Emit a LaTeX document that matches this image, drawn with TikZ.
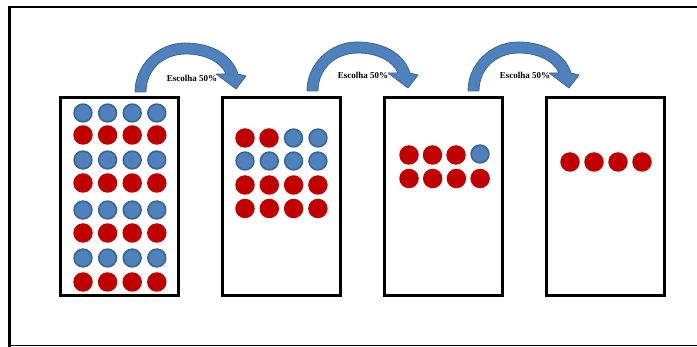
\documentclass[tikz,border=0pt]{standalone}
\usepackage{fontspec}
\setmainfont{Liberation Serif}
\definecolor{dotblue}{HTML}{4F81BD}
\definecolor{dotblueedge}{HTML}{3A6496}
\definecolor{dotred}{HTML}{C00000}
\definecolor{arrblue}{HTML}{4F81BD}
\definecolor{arredge}{HTML}{3B6598}
\newcommand\choicearrow[2]{%
  \begin{scope}[shift={(#1,#2)}]
    \path[arrowshape] (0,0) .. controls (0,-27) and (23,-49) .. (50,-49)
      .. controls (77,-49) and (97,-37) .. (103,-18)
      -- (111,-16) -- (101,-3) -- (81,-18) -- (91,-18)
      .. controls (86,-30) and (70,-38) .. (51,-38)
      .. controls (28,-38) and (11,-22) .. (11,0) -- cycle;
  \end{scope}}
\begin{document}
\begin{tikzpicture}[x=1pt,y=-1pt,
  urn/.style={draw=black,line width=3pt,minimum width=118pt,minimum height=198pt,inner sep=0pt},
  bd/.style={circle,fill=dotblue,draw=dotblueedge,line width=1.6pt,minimum size=17.8pt,inner sep=0pt},
  rd/.style={circle,fill=dotred,minimum size=19.5pt,inner sep=0pt},
  arrowshape/.style={fill=arrblue,draw=arredge,line width=0.8pt,line join=round},
  lbl/.style={font=\bfseries\fontsize{9}{10}\selectfont,inner sep=0pt}]
\useasboundingbox (0,0) rectangle (697,347);
% outer frame
\draw[line width=2.5pt] (8,7) -- (697,7);
\draw[line width=3pt] (9.5,5.75) -- (9.5,347);
\draw[line width=1.5pt] (8,345.5) -- (697,345.5);
% urns
\node[urn] (b1) at (119.5,196.5) {};
\node[urn] (b2) at (281.5,197) {};
\node[urn] (b3) at (443.5,197) {};
\node[urn] (b4) at (605.5,197) {};
% box 1 : 8 rows alternating blue / red
\foreach \r/\y/\s in {1/113/bd,2/135/rd,3/160/bd,4/183/rd,5/210/bd,6/233/rd,7/258/bd,8/282/rd}{
  \foreach \c in {1,...,4}{
    \node[\s] (a-\r-\c) at ({83+24.6*(\c-1)},\y) {};
  }}
% box 2
\node[rd] (c-1-1) at (245,138) {};
\node[rd] (c-1-2) at (269,138) {};
\node[bd] (c-1-3) at (293.5,138) {};
\node[bd] (c-1-4) at (318,138) {};
\foreach \c in {1,...,4}{
  \node[bd] (c-2-\c) at ({245+24.3*(\c-1)},161) {};
  \node[rd] (c-3-\c) at ({245+24.3*(\c-1)},185) {};
  \node[rd] (c-4-\c) at ({245+24.3*(\c-1)},208.5) {};
}
% box 3
\node[rd] (e-1-1) at (409,155) {};
\node[rd] (e-1-2) at (432.5,155) {};
\node[rd] (e-1-3) at (456,155) {};
\node[bd] (e-1-4) at (480,154) {};
\foreach \c in {1,...,4}{
  \node[rd] (e-2-\c) at ({409+23.7*(\c-1)},178.5) {};
}
% box 4
\foreach \c in {1,...,4}{
  \node[rd] (f-1-\c) at ({570+24*(\c-1)},162) {};
}
% curved arrows
\choicearrow{135}{92}
\choicearrow{307}{91}
\choicearrow{468}{91}
\node[lbl] (t1) at (192,78) {Escolha 50\%};
\node[lbl] (t2) at (363,75) {Escolha 50\%};
\node[lbl] (t3) at (525,75) {Escolha 50\%};
\end{tikzpicture}
\end{document}
